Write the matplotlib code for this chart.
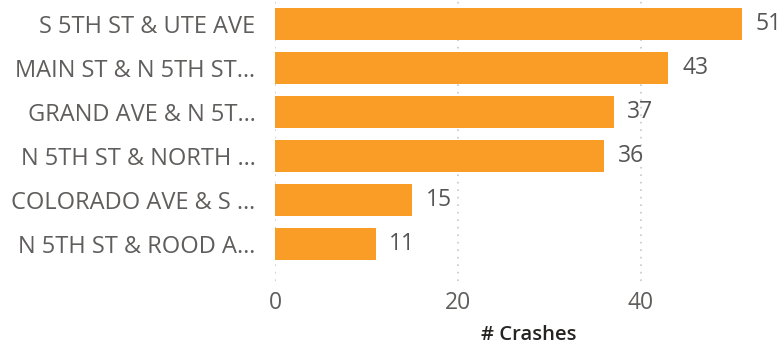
import matplotlib.pyplot as plt

# Crash counts per intersection
intersections = [
    "S 5TH ST & UTE AVE",
    "MAIN ST & N 5TH ST…",
    "GRAND AVE & N 5T…",
    "N 5TH ST & NORTH …",
    "COLORADO AVE & S …",
    "N 5TH ST & ROOD A…",
]
crashes = [51, 43, 37, 36, 15, 11]
xticks = [0, 20, 40]

plt.rcParams['font.family'] = ['Open Sans', 'DejaVu Sans']

bar_color = '#F99D26'
text_color = '#605E5C'

fig = plt.figure(figsize=(7.78, 3.45), dpi=100)
ax = fig.add_axes([275 / 778, 1 - 281 / 345, 485 / 778, 281 / 345])

pos = list(range(len(intersections)))
ax.barh(pos, crashes, height=0.73, color=bar_color, zorder=2)

for y, v in zip(pos, crashes):
    ax.text(v + 1.5, y, str(v), va='center', ha='left',
            fontsize=16.5, color='#555555')

ax.set_xlim(0, 53)
ax.set_ylim(5.85, -0.55)
ax.set_yticks(pos)
ax.set_yticklabels(intersections, fontsize=17, color=text_color)
ax.set_xticks(xticks)
ax.set_xticklabels([str(t) for t in xticks], fontsize=16.5, color=text_color)
ax.tick_params(axis='both', length=0)
ax.tick_params(axis='y', pad=14)
ax.tick_params(axis='x', pad=7)

ax.grid(axis='x', color='#C8C8C8', linestyle=(0, (1, 3.5)), linewidth=1.2, zorder=0)
for s in ax.spines.values():
    s.set_visible(False)

ax.set_xlabel('# Crashes', fontsize=14.5, fontweight='semibold', color='#252423')
ax.xaxis.set_label_coords(0.524, -0.155)

fig.savefig('out.png', dpi=100)
